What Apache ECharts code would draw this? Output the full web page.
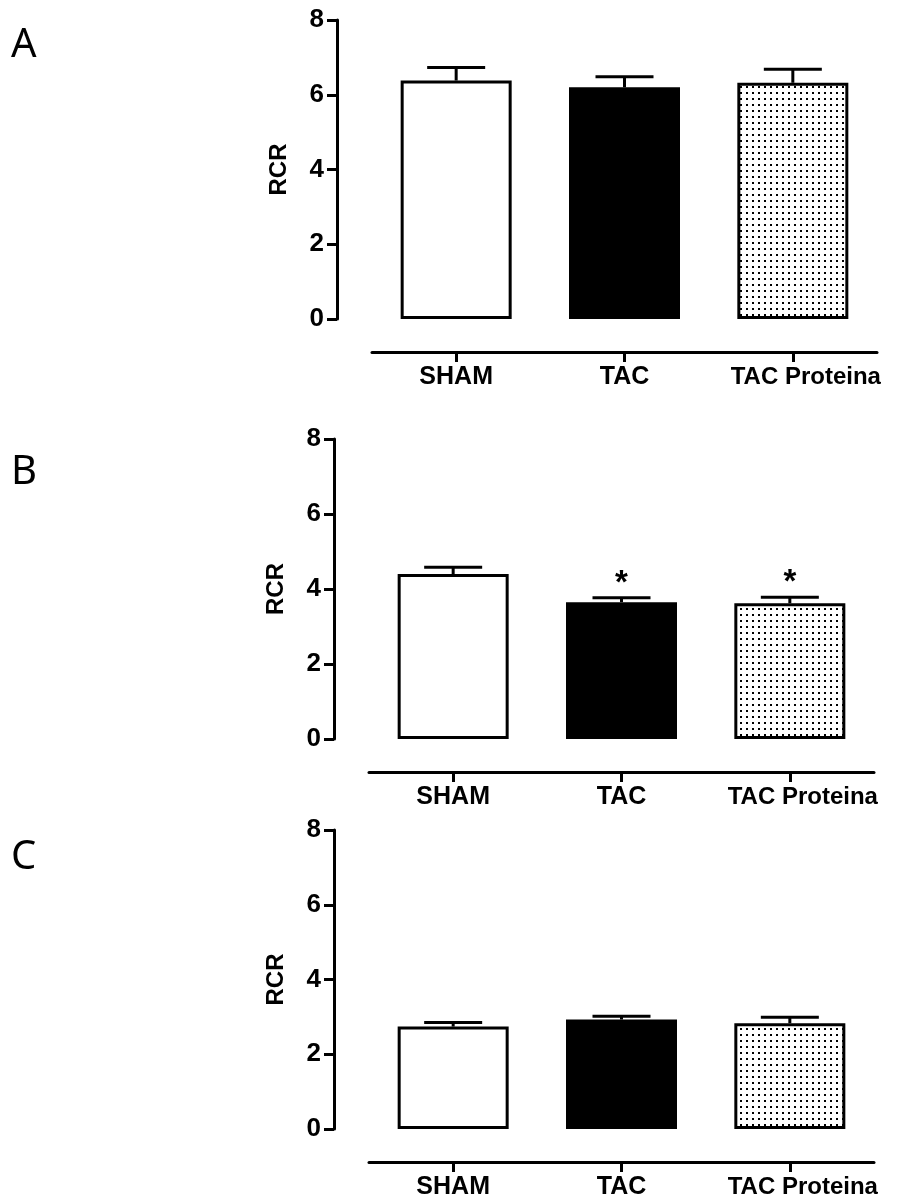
<!DOCTYPE html>
<html>
<head>
<meta charset="utf-8">
<script src="https://cdn.jsdelivr.net/npm/echarts@6/dist/echarts.min.js"></script>
<style>
  html, body { margin: 0; padding: 0; background: #fff; }
  #chart { width: 909px; height: 1200px; }
</style>
</head>
<body>
<div id="chart"></div>
<script>
// Groups on the x axis
const categories = ['SHAM', 'TAC', 'TAC Proteina'];
// Y axis range and step (ticks 0, 2, 4, 6, 8)
const yMin = 0;
const yMax = 8;
const yStep = 2;
const yName = 'RCR';

// Panel A: mean RCR and SEM
const meanA = [6.38, 6.20, 6.32];
const semA = [0.35, 0.28, 0.36];
// Panel B
const meanB = [4.40, 3.65, 3.62];
const semB = [0.18, 0.12, 0.16];
const sigB = ['', '*', '*'];
// Panel C
const meanC = [2.74, 2.93, 2.83];
const semC = [0.11, 0.09, 0.16];

const panelLetters = ['A', 'B', 'C'];

// Dotted fill for the third group
const dotCanvas = document.createElement('canvas');
dotCanvas.width = 6;
dotCanvas.height = 6;
(function () {
  const ctx = dotCanvas.getContext('2d');
  ctx.fillStyle = '#ffffff';
  ctx.fillRect(0, 0, 6, 6);
  ctx.fillStyle = '#000000';
  ctx.fillRect(2, 2, 2, 2);
})();

const barStyles = [
  { color: '#ffffff', borderColor: '#000', borderWidth: 3 },
  { color: '#000000', borderColor: '#000', borderWidth: 3 },
  { color: { image: dotCanvas, repeat: 'repeat' }, borderColor: '#000', borderWidth: 3 }
];

const FONT = 'Liberation Sans, Arial, sans-serif';

const panels = [
  { mean: meanA, sem: semA, sig: null, grid: { left: 372, top: 20, width: 505, height: 299 } },
  { mean: meanB, sem: semB, sig: sigB, grid: { left: 369, top: 439, width: 505, height: 300 } },
  { mean: meanC, sem: semC, sig: null, grid: { left: 369, top: 830, width: 505, height: 300 } }
];

const grids = [], xAxes = [], yAxes = [], series = [];

panels.forEach(function (p, i) {
  grids.push(Object.assign({ containLabel: false }, p.grid));
  xAxes.push({
    type: 'category',
    gridIndex: i,
    data: categories,
    offset: 33,
    axisLine: { onZero: false, lineStyle: { color: '#000', width: 3 } },
    axisTick: { show: true, interval: 0, alignWithLabel: true, length: 10, lineStyle: { color: '#000', width: 3 } },
    axisLabel: {
      interval: 0, color: '#000', fontFamily: FONT, fontWeight: 'bold', fontSize: 25, margin: 13,
      formatter: function (v) { return v.indexOf(' ') > 0 ? '{wide|' + v + '}' : v; },
      rich: { wide: { color: '#000', fontFamily: FONT, fontWeight: 'bold', fontSize: 24, padding: [0, 0, 0, 26] } }
    },
    splitLine: { show: false }
  });
  yAxes.push({
    type: 'value',
    gridIndex: i,
    min: yMin,
    max: yMax,
    interval: yStep,
    offset: 35,
    name: yName,
    nameLocation: 'middle',
    nameRotate: 90,
    nameGap: 46,
    nameTextStyle: { color: '#000', fontFamily: FONT, fontWeight: 'bold', fontSize: 24 },
    axisLine: { show: true, lineStyle: { color: '#000', width: 3 } },
    axisTick: { show: true, length: 10, lineStyle: { color: '#000', width: 3 } },
    axisLabel: { color: '#000', fontFamily: FONT, fontWeight: 'bold', fontSize: 26, margin: 13 },
    splitLine: { show: false }
  });
  series.push({
    type: 'bar',
    xAxisIndex: i,
    yAxisIndex: i,
    barWidth: 111,
    silent: true,
    data: p.mean.map(function (v, k) { return { value: v, itemStyle: barStyles[k] }; }),
    z: 2
  });
  // Upper SEM whiskers with caps, plus significance marks
  series.push({
    type: 'custom',
    xAxisIndex: i,
    yAxisIndex: i,
    silent: true,
    z: 3,
    encode: { x: 0, y: 1 },
    data: p.mean.map(function (v, k) { return [k, v, p.sem[k]]; }),
    renderItem: function (params, api) {
      const k = api.value(0);
      const m = api.value(1);
      const e = api.value(2);
      const base = api.coord([k, m]);
      const top = api.coord([k, m + e]);
      const half = 29;
      const style = { stroke: '#000', lineWidth: 3 };
      const children = [
        { type: 'line', shape: { x1: base[0], y1: base[1], x2: top[0], y2: top[1] }, style: style },
        { type: 'line', shape: { x1: top[0] - half, y1: top[1], x2: top[0] + half, y2: top[1] }, style: style }
      ];
      if (p.sig && p.sig[params.dataIndex]) {
        children.push({
          type: 'text',
          style: {
            text: p.sig[params.dataIndex],
            x: top[0], y: top[1] - 14,
            align: 'center', verticalAlign: 'middle',
            fontFamily: FONT, fontWeight: 'bold', fontSize: 33, fill: '#000'
          }
        });
      }
      return { type: 'group', children: children };
    }
  });
});

const letterTop = [26, 453, 838];
const graphics = panelLetters.map(function (t, i) {
  return {
    type: 'text',
    left: 11,
    top: letterTop[i],
    style: { text: t, fontFamily: 'Noto Sans, Open Sans, sans-serif', fontSize: 40, fill: '#000' }
  };
});

const chart = echarts.init(document.getElementById('chart'), null, { renderer: 'canvas' });
chart.setOption({
  backgroundColor: '#ffffff',
  animation: false,
  grid: grids,
  xAxis: xAxes,
  yAxis: yAxes,
  series: series,
  graphic: graphics
});
</script>
</body>
</html>
